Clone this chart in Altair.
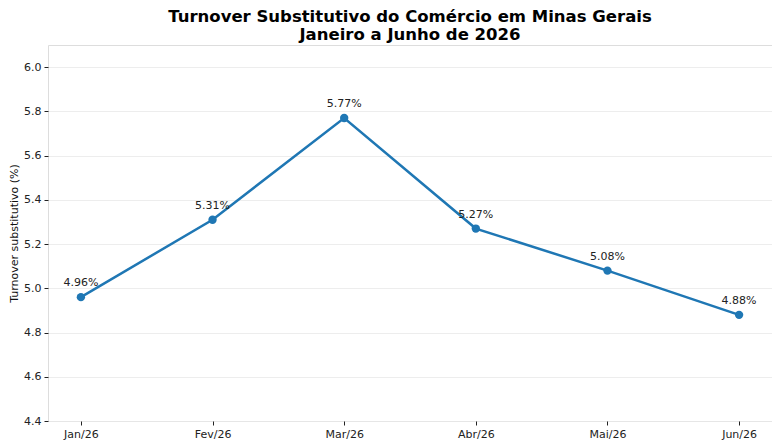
import altair as alt
import pandas as pd

months = ["Jan/26", "Fev/26", "Mar/26", "Abr/26", "Mai/26", "Jun/26"]
values = [4.96, 5.31, 5.77, 5.27, 5.08, 4.88]
labels = ["4.96%", "5.31%", "5.77%", "5.27%", "5.08%", "4.88%"]
y_ticks = [4.4, 4.6, 4.8, 5.0, 5.2, 5.4, 5.6, 5.8, 6.0]

df = pd.DataFrame({"mes": months, "valor": values, "rotulo": labels})

FONT = "DejaVu Sans"
BLUE = "#1f77b4"

x = alt.X("mes:N", sort=months, title=None,
          scale=alt.Scale(type="point", padding=0.25),
          axis=alt.Axis(labelAngle=0, labelFont=FONT, labelFontSize=11, labelColor="#222",
                        tickColor="#222", tickSize=4, labelPadding=3, grid=False,
                        domain=False))
y = alt.Y("valor:Q", title="Turnover substitutivo (%)",
          scale=alt.Scale(domain=[4.4, 6.1], nice=False, zero=False),
          axis=alt.Axis(values=y_ticks, format=".1f", labelFont=FONT, labelFontSize=11,
                        labelColor="#222", tickColor="#222", tickSize=4, labelPadding=3,
                        titleFont=FONT, titleFontSize=11, titleFontWeight="normal",
                        titleColor="#111", titlePadding=4, grid=True, gridColor="#e8e8e8",
                        gridWidth=0.8, domain=False))

base = alt.Chart(df)
line = base.mark_line(color=BLUE, strokeWidth=2.5).encode(x=x, y=y)
pts = base.mark_point(color=BLUE, filled=True, opacity=1, size=70).encode(x=x, y=y)
txt = base.mark_text(font=FONT, fontSize=11, color="#222", dy=-14).encode(
    x=x, y=y, text="rotulo:N")

chart = (line + pts + txt).properties(
    width=724, height=376,
    title=alt.TitleParams(
        text=["Turnover Substitutivo do Comércio em Minas Gerais", "Janeiro a Junho de 2026"],
        font=FONT, fontSize=16.5, fontWeight="bold", color="#000", anchor="middle",
        offset=2, lineHeight=18),
    autosize=alt.AutoSizeParams(type="none"),
    padding={"left": 40, "top": 37, "right": 0, "bottom": 20},
).configure_view(stroke="#222", strokeWidth=1).configure(background="white")

chart.save("out.html", embed_options={"renderer": "svg", "actions": False})
